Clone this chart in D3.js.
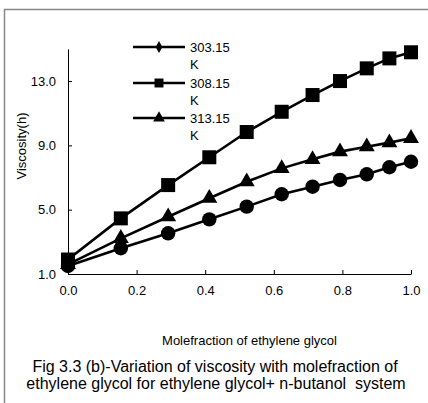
<!DOCTYPE html>
<html><head><meta charset="utf-8">
<script src="https://cdn.jsdelivr.net/npm/d3@7"></script>
<style>body{margin:0;background:#fff}svg{display:block;font-family:"Liberation Sans",Arial,sans-serif}</style>
</head><body><svg id="c" width="428" height="403"></svg>
<script>
const xValues = [0, 0.154, 0.292, 0.412, 0.521, 0.623, 0.713, 0.793, 0.871, 0.937, 1.0];
const series303 = [1.5, 2.60, 3.53, 4.40, 5.19, 5.96, 6.43, 6.85, 7.20, 7.64, 7.98];
const series308 = [1.9, 4.46, 6.53, 8.26, 9.83, 11.09, 12.13, 13.0, 13.79, 14.41, 14.79];
const series313 = [1.6, 3.22, 4.56, 5.71, 6.74, 7.57, 8.13, 8.61, 8.92, 9.17, 9.44];
const seriesNames = ["303.15 K", "308.15 K", "313.15 K"];
const xTicks = [0, 0.2, 0.4, 0.6, 0.8, 1.0];
const yTicks = [1, 5, 9, 13];

const svg = d3.select("#c");
const x = d3.scaleLinear().domain([0, 1]).range([68, 411]);
const y = d3.scaleLinear().domain([1, 15]).range([274, 48.9]);

// frame
svg.append("path").attr("d", "M4.5,403 V9.5 H428").attr("fill", "none").attr("stroke", "#888").attr("stroke-width", 1.5);

// axes
const xa = svg.append("g").attr("transform", `translate(0,${y(1)})`)
  .call(d3.axisBottom(x).tickValues(xTicks).tickFormat(d3.format(".1f")).tickSizeInner(-4).tickSizeOuter(0).tickPadding(12));
const ya = svg.append("g").attr("transform", `translate(${x(0)},0)`)
  .call(d3.axisLeft(y).tickValues(yTicks).tickFormat(d3.format(".1f")).tickSizeInner(-4).tickSizeOuter(0).tickPadding(12));
[xa, ya].forEach(g => {
  g.select(".domain").attr("stroke", "#000").attr("stroke-width", 1);
  g.selectAll(".tick line").attr("stroke", "#000");
  g.selectAll("text").attr("font-size", 13).attr("fill", "#000").attr("font-family", "Liberation Sans, Arial, sans-serif");
});
xa.selectAll("text").attr("dy", "0.71em");

const data = [series303, series308, series313];
const line = d3.line().x((d, i) => x(xValues[i])).y(d => y(d));

// lines
data.forEach(s => {
  svg.append("path").datum(s).attr("d", line).attr("fill", "none").attr("stroke", "#000").attr("stroke-width", 2.6);
});

// markers
const tri = d3.symbol().type(d3.symbolTriangle).size(110)();
svg.append("g").selectAll("path").data(series313).join("path")
  .attr("d", tri).attr("transform", (d, i) => `translate(${x(xValues[i])},${y(d)})`).attr("fill", "#000");
svg.append("g").selectAll("circle").data(series303).join("circle")
  .attr("cx", (d, i) => x(xValues[i])).attr("cy", d => y(d)).attr("r", 7.2).attr("fill", "#000");
svg.append("g").selectAll("rect").data(series308).join("rect")
  .attr("x", (d, i) => x(xValues[i]) - 7).attr("y", d => y(d) - 7).attr("width", 14).attr("height", 14).attr("fill", "#000");

// legend
const legY = [47, 83, 118];
const legSyms = [d3.symbol().type(d3.symbolDiamond).size(40)(), d3.symbol().type(d3.symbolSquare).size(80)(), d3.symbol().type(d3.symbolTriangle).size(60)()];
seriesNames.forEach((nm, i) => {
  const g = svg.append("g").attr("transform", `translate(0,${legY[i]})`);
  g.append("line").attr("x1", 133).attr("x2", 185).attr("y1", 0).attr("y2", 0).attr("stroke", "#000").attr("stroke-width", 2.6);
  g.append("path").attr("d", legSyms[i]).attr("transform", "translate(159,0)").attr("fill", "#000");
  const parts = nm.split(" ");
  g.append("text").attr("x", 190).attr("y", 4.7).attr("font-size", 13).text(parts[0]);
  g.append("text").attr("x", 190).attr("y", 21.7).attr("font-size", 13).text(parts[1]);
});

// axis titles
svg.append("text").attr("transform", "translate(25.5,146) rotate(-90)").attr("text-anchor", "middle").attr("font-size", 13).text("Viscosity(h)");
svg.append("text").attr("x", 249.5).attr("y", 345).attr("text-anchor", "middle").attr("font-size", 13).text("Molefraction of ethylene glycol");

// caption
svg.append("text").attr("x", 215).attr("y", 371.5).attr("text-anchor", "middle").attr("font-size", 16).text("Fig 3.3 (b)-Variation of viscosity with molefraction of");
svg.append("text").attr("x", 216).attr("y", 388.5).attr("text-anchor", "middle").attr("font-size", 16).style("white-space", "pre").text("ethylene glycol for ethylene glycol+ n-butanol  system");
</script></body></html>
